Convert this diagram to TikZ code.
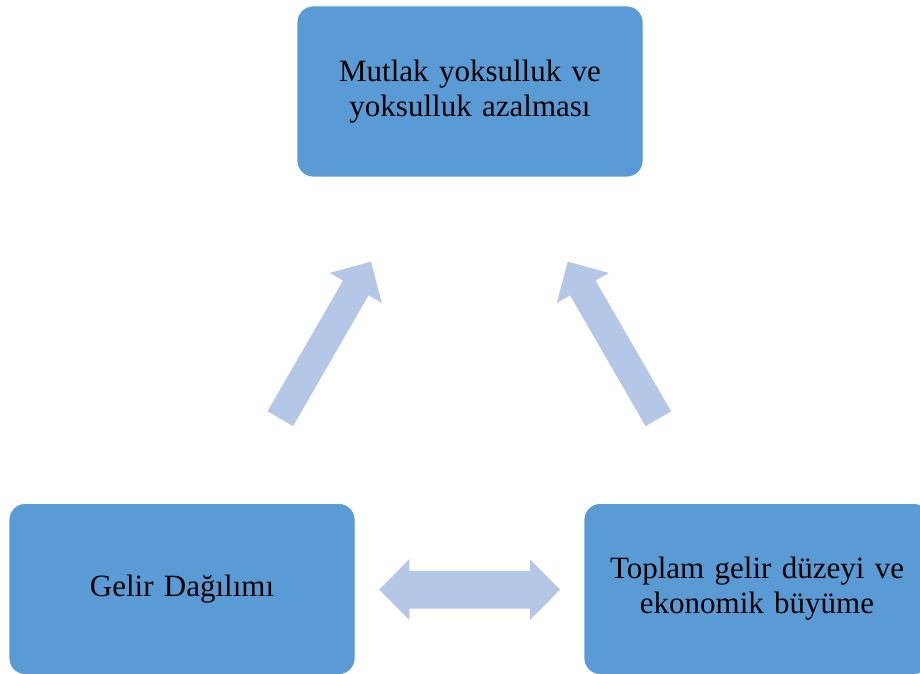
\documentclass[tikz,border=0pt]{standalone}
\usepackage{fontspec}
\setmainfont{Liberation Serif}
\definecolor{boxblue}{HTML}{5B9BD5}
\definecolor{arrowblue}{HTML}{B4C7E7}
\tikzset{
  box/.style={rectangle, rounded corners=16pt, fill=boxblue, draw=white, line width=0.8pt,
    minimum width=346pt, minimum height=171pt, text width=336pt, align=center,
    inner sep=0pt, font=\fontsize{31}{35}\selectfont},
  arrowfill/.style={fill=arrowblue}
}
\begin{document}
\begin{tikzpicture}[x=1pt,y=1pt]
\useasboundingbox (0,0) rectangle (920,673);
\clip (0,0) rectangle (920,673);
\node[box] (top) at (470,581.5) {Mutlak yoksulluk ve\\yoksulluk azalması};
\node[box] (left) at (182,84) {Gelir Dağılımı};
\node[box] (right) at (757,84) {Toplam gelir düzeyi ve\\ekonomik büyüme};
% up-right arrow
\begin{scope}[shift={(280.3,254.3)}, rotate=60]
\fill[arrowfill] (0,-14.75) -- (151,-14.75) -- (151,-30) -- (181.3,0) -- (151,30) -- (151,14.75) -- (0,14.75) -- cycle;
\end{scope}
% up-left arrow
\begin{scope}[shift={(658.3,254.3)}, rotate=120]
\fill[arrowfill] (0,-14.75) -- (151,-14.75) -- (151,-30) -- (181.3,0) -- (151,30) -- (151,14.75) -- (0,14.75) -- cycle;
\end{scope}
% double arrow
\fill[arrowfill] (379.3,83.35) -- (409.3,113.7) -- (409.3,102.2) -- (530,102.2) -- (530,113.7) -- (560,83.35)
  -- (530,53) -- (530,64.5) -- (409.3,64.5) -- (409.3,53) -- cycle;
\end{tikzpicture}
\end{document}
